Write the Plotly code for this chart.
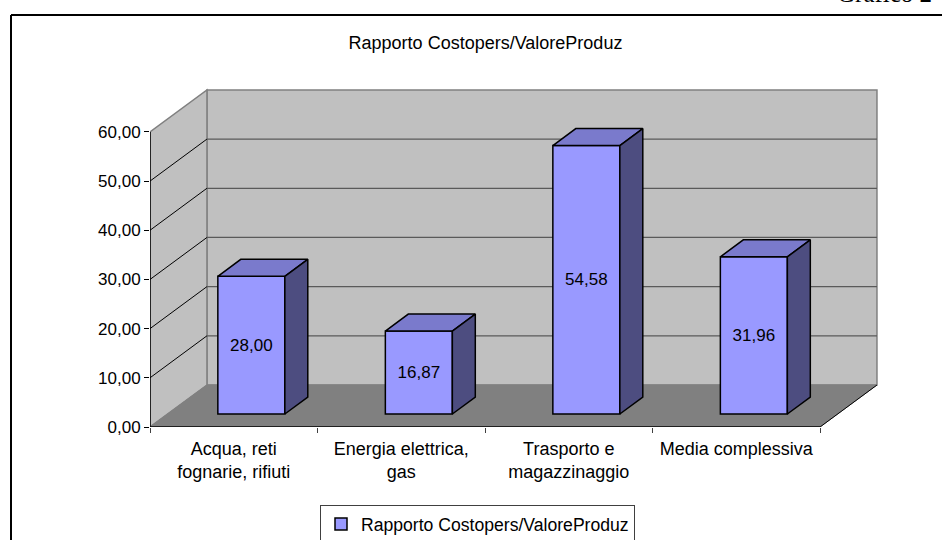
import plotly.graph_objects as go

categories = ["Acqua, reti<br>fognarie, rifiuti", "Energia elettrica,<br>gas",
              "Trasporto e<br>magazzinaggio", "Media complessiva"]
values = [28.00, 16.87, 54.58, 31.96]
value_labels = ["28,00", "16,87", "54,58", "31,96"]
series_name = "Rapporto Costopers/ValoreProduz"
corner_note = "Grafico 2"
y_ticks = [0, 10, 20, 30, 40, 50, 60]
y_tick_labels = ["0,00", "10,00", "20,00", "30,00", "40,00", "50,00", "60,00"]

FONT = "Liberation Sans"
W, H = 942, 540
M_L, M_R, M_T, M_B = 150, 60, 85, 113
plot_w, plot_h = W - M_L - M_R, H - M_T - M_B
def px(v):
    return (v - M_L) / plot_w
def py(v):
    return (H - M_B - v) / plot_h

positions = list(range(len(values)))
x0, x1 = -0.5, len(values) - 0.5
ymax = y_ticks[-1]
# depth projection in axis units
wall_dx, wall_dy = 0.34, 8.54
base_dx, base_dy = 0.105, 2.64
bar_w = 0.40
bar_dx, bar_dy = 0.137, 3.45

shapes = []
def poly(pts, fill, line=None, width=1):
    path = "M " + " L ".join(f"{x},{y}" for x, y in pts) + " Z"
    shapes.append(dict(type="path", path=path, xref="x", yref="y", layer="below",
                       fillcolor=fill, line=dict(color=line or fill, width=width)))
def seg(a, b, color, width=1):
    shapes.append(dict(type="line", x0=a[0], y0=a[1], x1=b[0], y1=b[1], xref="x", yref="y",
                       layer="below", line=dict(color=color, width=width)))

# walls and floor
poly([(x0 + wall_dx, wall_dy), (x1 + wall_dx, wall_dy), (x1 + wall_dx, ymax + wall_dy), (x0 + wall_dx, ymax + wall_dy)],
     "#C0C0C0", "#808080", 1.5)
poly([(x0, 0), (x0 + wall_dx, wall_dy), (x0 + wall_dx, ymax + wall_dy), (x0, ymax)], "#C0C0C0", "#808080", 1.5)
poly([(x0, 0), (x1, 0), (x1 + wall_dx, wall_dy), (x0 + wall_dx, wall_dy)], "#808080", "#808080", 1)
# gridlines
for t in y_ticks[1:-1]:
    seg((x0, t), (x0 + wall_dx, t + wall_dy), "#000000", 1)
    seg((x0 + wall_dx, t + wall_dy), (x1 + wall_dx, t + wall_dy), "#5A5A5A", 1.3)
seg((x1, 0), (x1 + wall_dx, wall_dy), "#000000", 1)

# outer frame of the chart, running off the top-right and bottom-left of the page
frame = [
    dict(type="line", xref="paper", yref="paper", x0=px(11), x1=px(W), y0=py(15), y1=py(15),
         line=dict(color="#000000", width=2)),
    dict(type="line", xref="paper", yref="paper", x0=px(11), x1=px(11), y0=py(15), y1=py(H),
         line=dict(color="#000000", width=2)),
]

fig = go.Figure()
fig.add_trace(go.Bar(
    x=positions, y=values, base=base_dy, width=bar_w, offset=base_dx - bar_w / 2,
    name=series_name, text=value_labels, textposition="inside", insidetextanchor="middle",
    textangle=0, constraintext="none", textfont=dict(family=FONT, size=17, color="#000000"),
    marker=dict(color="#9999FF", line=dict(color="#000000", width=1.5)), hoverinfo="skip"))

for p, v in zip(positions, values):
    l = p + base_dx - bar_w / 2
    r = l + bar_w
    top = v + base_dy
    fig.add_trace(go.Scatter(
        x=[l, r, r + bar_dx, l + bar_dx, l], y=[top, top, top + bar_dy, top + bar_dy, top],
        mode="lines", fill="toself", fillcolor="#7A7ACC", line=dict(color="#000000", width=1.5),
        showlegend=False, hoverinfo="skip"))
    fig.add_trace(go.Scatter(
        x=[r, r + bar_dx, r + bar_dx, r, r], y=[base_dy, base_dy + bar_dy, top + bar_dy, top, base_dy],
        mode="lines", fill="toself", fillcolor="#4D4D80", line=dict(color="#000000", width=1.5),
        showlegend=False, hoverinfo="skip"))

# axis lines end at the front of the floor, so they are drawn as traces
fig.add_trace(go.Scatter(x=[x0, x0, x1], y=[ymax, 0, 0], mode="lines", cliponaxis=False,
                         line=dict(color="#000000", width=1.5), showlegend=False, hoverinfo="skip"))

fig.update_layout(
    width=W, height=H, autosize=False,
    margin=dict(l=M_L, r=M_R, t=M_T, b=M_B, pad=0, autoexpand=False),
    paper_bgcolor="#FFFFFF", plot_bgcolor="rgba(0,0,0,0)",
    font=dict(family=FONT, size=17, color="#000000"),
    title=dict(text=series_name, x=485.5 / W, y=1 - 43 / H, xanchor="center", yanchor="middle",
               font=dict(family=FONT, size=18, color="#000000")),
    xaxis=dict(range=[x0, x1 + wall_dx + 0.03], tickmode="array", tickvals=positions, ticktext=categories,
               ticks="outside", ticklen=5, tickcolor="rgba(0,0,0,0)", showgrid=False, zeroline=False,
               showline=False, tickangle=0, tickfont=dict(family=FONT, size=18),
               minor=dict(tickmode="array", tickvals=[x0 + i for i in range(len(values) + 1)],
                          ticks="outside", ticklen=5, tickwidth=1, tickcolor="#404040", showgrid=False)),
    yaxis=dict(range=[0, ymax + wall_dy + 1], tickmode="array", tickvals=y_ticks, ticktext=y_tick_labels,
               ticks="outside", ticklen=5, tickwidth=1, tickcolor="#000000", showgrid=False, zeroline=False,
               showline=False, tickfont=dict(family=FONT, size=17)),
    showlegend=True,
    legend=dict(x=px(635), y=py(524), xanchor="right", yanchor="middle", orientation="h",
                bordercolor="#404040", borderwidth=1, bgcolor="#FFFFFF",
                font=dict(family=FONT, size=17.6)),
    shapes=shapes + frame,
    annotations=[dict(text=corner_note, xref="paper", yref="paper", x=px(934), y=py(9),
                      xanchor="right", yanchor="bottom", showarrow=False,
                      font=dict(family="Liberation Serif", size=25, color="#000000"))],
)
fig.write_html("out.html", config={"displayModeBar": False},
               post_script="document.body.style.margin='0';document.body.style.overflow='hidden';")
